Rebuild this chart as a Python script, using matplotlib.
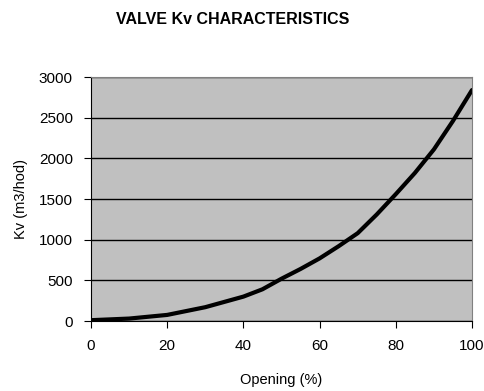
import matplotlib.pyplot as plt

plt.rcParams['font.family'] = ['Liberation Sans', 'DejaVu Sans']

# valve opening (%) and flow coefficient Kv (m3/hod)
opening = [0, 10, 20, 30, 40, 45, 50, 55, 60, 65, 70, 75, 80, 85, 90, 95, 100]
kv = [10, 30, 75, 170, 300, 390, 520, 640, 770, 920, 1080, 1310, 1560, 1820, 2110, 2460, 2840]

fig = plt.figure(figsize=(4.85, 3.91), dpi=100)
ax = fig.add_axes([0.1876, 0.179, 0.7856, 0.624])
ax.set_facecolor('#c0c0c0')

ax.plot(opening, kv, color='black', lw=3, solid_capstyle='round')

ax.set_xlim(0, 100)
ax.set_ylim(0, 3000)
ax.set_xticks(range(0, 101, 20))
ax.set_yticks(range(0, 3001, 500))
ax.yaxis.grid(True, color='black', lw=1)
ax.set_axisbelow(True)

for s in ['top', 'right']:
    ax.spines[s].set_color('#808080')
for s in ['left', 'bottom']:
    ax.spines[s].set_color('black')
ax.tick_params(direction='out', length=5, labelsize=11, pad=8)

ax.set_xlabel('Opening (%)', fontsize=10.5, labelpad=14)
ax.set_ylabel('Kv (m3/hod)', fontsize=10.5, labelpad=8)
fig.text(0.48, 0.95, 'VALVE Kv CHARACTERISTICS', ha='center', va='center',
         fontsize=11.5, fontweight='bold')

fig.savefig('out.png', dpi=100)
